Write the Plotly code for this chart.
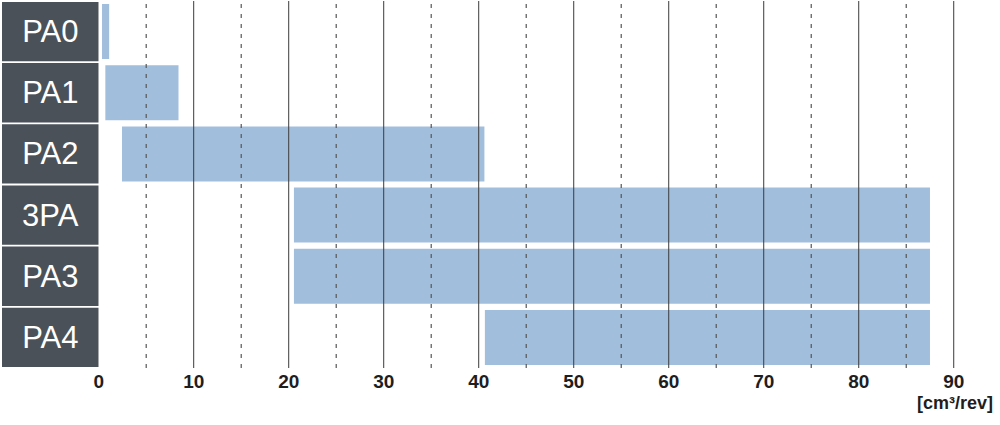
import plotly.graph_objects as go

categories = ["PA0", "PA1", "PA2", "3PA", "PA3", "PA4"]
range_start = [0.35, 0.7, 2.45, 20.55, 20.55, 40.65]
range_end = [1.1, 8.4, 40.6, 87.5, 87.5, 87.5]
tick_values = [0, 10, 20, 30, 40, 50, 60, 70, 80, 90]
tick_labels = ["0", "10", "20", "30", "40", "50", "60", "70", "80", "90"]
solid_lines = [10, 20, 30, 40, 50, 60, 70, 80, 90]
dashed_lines = [5, 15, 25, 35, 45, 55, 65, 75, 85]
unit_label = "[cm³/rev]"

FONT = "Liberation Sans, Arial, Helvetica, sans-serif"
BAR_COLOR = "#a2bedd"
BOX_COLOR = "#4a5158"

fig = go.Figure()

# Category label boxes
fig.add_trace(go.Bar(
    y=categories,
    x=[1] * len(categories),
    base=[0] * len(categories),
    orientation="h",
    width=0.97,
    marker=dict(color=BOX_COLOR, line=dict(width=0)),
    text=categories,
    textposition="inside",
    insidetextanchor="middle",
    textangle=0,
    textfont=dict(family=FONT, size=31, color="white"),
    xaxis="x2",
    yaxis="y",
    hoverinfo="skip",
    showlegend=False,
))

# Range bars
fig.add_trace(go.Bar(
    y=categories,
    x=[e - s for s, e in zip(range_start, range_end)],
    base=range_start,
    orientation="h",
    width=0.9,
    marker=dict(color=BAR_COLOR, line=dict(width=0)),
    xaxis="x",
    yaxis="y",
    showlegend=False,
))

shapes = []
for v in solid_lines:
    shapes.append(dict(type="line", xref="x", yref="paper", x0=v, x1=v, y0=0, y1=1,
                       line=dict(color="#3a3a3a", width=1), layer="above"))
for v in dashed_lines:
    shapes.append(dict(type="line", xref="x", yref="paper", x0=v, x1=v, y0=0, y1=1,
                       line=dict(color="#555555", width=1.2, dash="4px,6px"), layer="above"))

fig.update_layout(
    width=1000,
    height=425,
    autosize=False,
    margin=dict(l=0, r=0, t=1, b=57, pad=0),
    paper_bgcolor="white",
    plot_bgcolor="white",
    barmode="overlay",
    shapes=shapes,
    xaxis=dict(
        domain=[0.0987, 1.0],
        range=[0, 94.87],
        tickvals=tick_values,
        ticktext=tick_labels,
        tickfont=dict(family=FONT, size=19, color="#1e1e1e", weight="bold"),
        showgrid=False,
        zeroline=False,
        showline=False,
        ticks="",
        automargin=False,
        fixedrange=True,
    ),
    xaxis2=dict(
        domain=[0.002, 0.0987],
        range=[0, 1],
        showticklabels=False,
        showgrid=False,
        zeroline=False,
        showline=False,
        ticks="",
        automargin=False,
        anchor="y",
        fixedrange=True,
    ),
    yaxis=dict(
        categoryorder="array",
        categoryarray=categories,
        autorange="reversed",
        showticklabels=False,
        showgrid=False,
        zeroline=False,
        showline=False,
        ticks="",
        automargin=False,
        fixedrange=True,
    ),
    annotations=[dict(
        text=unit_label,
        xref="paper", yref="paper",
        x=0.995, y=-0.095,
        xanchor="right", yanchor="middle",
        showarrow=False,
        font=dict(family=FONT, size=18, color="#1e1e1e", weight="bold"),
    )],
)

fig.write_html(
    "out.html",
    config={"displayModeBar": False},
    post_script="document.body.style.margin='0';document.body.style.overflow='hidden';",
)
